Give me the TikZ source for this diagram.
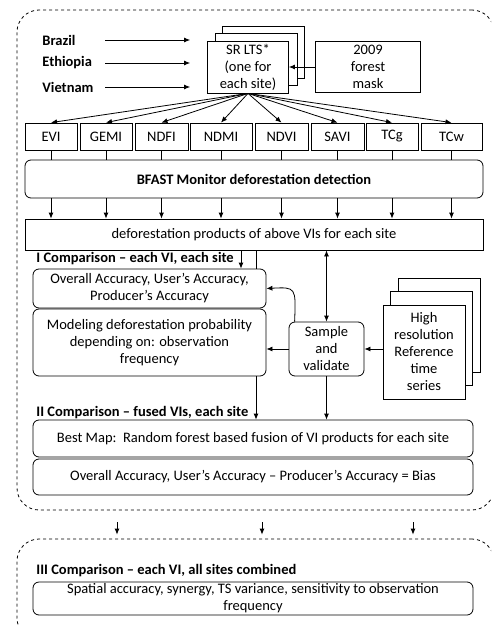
\documentclass[tikz,border=0pt]{standalone}
\usepackage{fontspec}
\setmainfont{Carlito}
\usetikzlibrary{arrows.meta}

\begin{document}
\fontsize{14.5}{17}\selectfont
\begin{tikzpicture}[x=1pt,y=-1pt, >={Latex[length=6pt,width=5pt]}, line width=0.8pt,
    box/.style={draw, fill=white, align=center, inner sep=0pt},
    rbox/.style={box, rounded corners=6pt},
    lbl/.style={font=\bfseries, anchor=west, inner sep=0pt},
    frame/.style={draw, dashed, rounded corners=22pt, inner sep=0pt}]
  \clip (0,0) rectangle (491,626);
  % dashed groups
  \node[frame, minimum width=477, minimum height=500] (upper) at (255.5,260) {};
  \node[frame, minimum width=477, minimum height=101] (lower) at (255.5,589.5) {};

  % sites and input data
  \node[lbl] (brazil) at (42,40) {Brazil};
  \node[lbl] (ethiopia) at (42,63) {Ethiopia};
  \node[lbl] (vietnam) at (42,87) {Vietnam};
  \coordinate (cstart) at (105,0);
  \node[box, minimum width=82, minimum height=52] (sr3) at (263,52) {};
  \node[box, minimum width=82, minimum height=52] (sr2) at (256,59.5) {};
  \node[box, minimum width=81, minimum height=52] (sr) at (248,67) {SR LTS*\\(one for\\each site)};
  \node[box, minimum width=105, minimum height=51] (mask) at (368,67) {2009\\forest\\mask};
  \foreach \c in {brazil,ethiopia,vietnam}
    \draw[->] (\c -| cstart) -- ([xshift=-17]\c -| sr.west);
  \draw[->] (mask.west) -- (mask.west -| sr.east);

  % vegetation indices
  \node[rbox, minimum width=458, minimum height=38, font=\bfseries] (bfast) at (254,179) {BFAST Monitor deforestation detection};
  \node[box, minimum width=458, minimum height=31] (prod) at (254,234.5) {deforestation products of above VIs for each site};
  \foreach \n/\x/\w in {EVI/51/52, GEMI/106/52, NDFI/161.5/53, NDMI/221/62, NDVI/281.5/53, SAVI/337.5/53, TCg/392/52, TCw/451.5/61} {
    \node[box, minimum width=\w, minimum height=27] (\n) at (\x,136.5) {\n};
    \draw[->] (sr.south) -- (\n.north);
    \draw (\n.south) -- (\n.south |- bfast.north);
    \draw[->] (\n.south |- bfast.south) -- (\n.south |- prod.north);
  }

  % I comparison
  \node[lbl] (cmpone) at (36,259) {I Comparison -- each VI, each site};
  \node[rbox, minimum width=233, minimum height=39] (overall) at (149.5,288.5) {Overall Accuracy, User’s Accuracy,\\Producer’s Accuracy};
  \node[rbox, minimum width=233, minimum height=67] (modeling) at (149.5,342.5) {Modeling deforestation probability\\depending on: observation\\frequency};
  \node[rbox, minimum width=75, minimum height=54] (sample) at (326.5,349) {Sample\\and\\validate};
  \node[box, minimum width=82, minimum height=94] (hr3) at (439,325) {};
  \node[box, minimum width=82, minimum height=94] (hr2) at (431.5,338.5) {};
  \node[box, minimum width=82, minimum height=94] (hr) at (424,352) {High\\resolution\\Reference\\time\\series};
  \coordinate (cleft) at (241,0);
  \coordinate (cright) at (256,0);
  \draw[->] (prod.south -| cleft) -- (overall.north -| cleft);
  \draw (prod.south -| cright) -- (overall.north -| cright);
  \draw[<->] (sample.north |- prod.south) -- (sample.north);
  \draw[->] (sample.east -| hr.west) -- (sample.east);
  \draw[->] (sample.west) -- (sample.west -| modeling.east);
  \draw[->] ([xshift=6]sample.north west) .. controls (296,287) .. (overall.east);

  % II comparison
  \node[lbl] (cmptwo) at (36,413) {II Comparison -- fused VIs, each site};
  \node[rbox, minimum width=440, minimum height=37] (bestmap) at (253,438.5) {Best Map:\ \ Random forest based fusion of VI products for each site};
  \node[rbox, minimum width=440, minimum height=36] (bias) at (253,477) {Overall Accuracy, User’s Accuracy -- Producer’s Accuracy = Bias};
  \draw[->] (modeling.south -| cright) -- (bestmap.north -| cright);
  \draw[->] (sample.south) -- (sample.south |- bestmap.north);

  % III comparison
  \foreach \x in {117,262,413}
    \draw[->] ([yshift=-12]upper.south -| \x,0) -- ([yshift=4]lower.north -| \x,0);
  \node[lbl] (cmpthree) at (36,571) {III Comparison -- each VI, all sites combined};
  \node[rbox, minimum width=440, minimum height=33] (spatial) at (253,598.5) {Spatial accuracy, synergy, TS variance, sensitivity to observation\\frequency};
\end{tikzpicture}
\end{document}
